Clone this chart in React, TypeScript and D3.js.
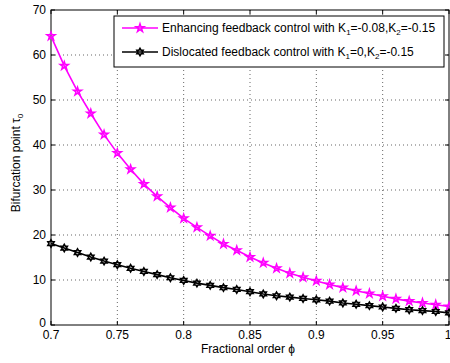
import React from "react";
import * as d3 from "d3";

const phi = [0.70,0.71,0.72,0.73,0.74,0.75,0.76,0.77,0.78,0.79,0.80,0.81,0.82,0.83,0.84,0.85,0.86,0.87,0.88,0.89,0.90,0.91,0.92,0.93,0.94,0.95,0.96,0.97,0.98,0.99,1.00];
const enhancing = [64.2,57.6,51.9,47.0,42.3,38.2,34.6,31.3,28.6,26.1,23.7,21.7,19.8,18.0,16.6,15.1,13.8,12.6,11.5,10.6,9.8,9.0,8.3,7.6,7.0,6.4,5.8,5.3,4.9,4.5,4.1];
const dislocated = [18.1,17.1,16.1,15.1,14.2,13.4,12.6,11.9,11.2,10.5,9.9,9.3,8.8,8.3,7.9,7.4,6.9,6.5,6.2,5.9,5.6,5.3,4.9,4.6,4.3,4.0,3.7,3.4,3.2,3.0,2.7];
const xTicks = [0.7,0.75,0.8,0.85,0.9,0.95,1];
const yTicks = [0,10,20,30,40,50,60,70];

const W = 450, H = 363;
const L = 51, R = 449, T = 10, B = 325;
const FONT = "'Liberation Sans', Arial, sans-serif";

function hexagram(r: number) {
  const pts: [number, number][] = [];
  for (let i = 0; i < 12; i++) {
    const a = (Math.PI / 6) * i - Math.PI / 2;
    const rr = i % 2 === 0 ? r : r * 0.577;
    pts.push([rr * Math.cos(a), rr * Math.sin(a)]);
  }
  return "M" + pts.map((p) => p.join(",")).join("L") + "Z";
}

export default function App() {
  const x = d3.scaleLinear().domain([0.7, 1]).range([L, R]);
  const y = d3.scaleLinear().domain([0, 70]).range([B, T]);
  const line = d3.line<number>().x((_, i) => x(phi[i])).y((d) => y(d));
  const star = d3.symbol().type(d3.symbolStar).size(20)()!;
  const hex = hexagram(3.6);

  return (
    <svg width={W} height={H} style={{ position: "absolute", left: 0, top: 0 }} fontFamily={FONT}>
      <rect x={0} y={0} width={W} height={H} fill="#fff" />
      {xTicks.slice(1, -1).map((t) => (
        <line key={"gx" + t} x1={x(t)} x2={x(t)} y1={T} y2={B} stroke="#000" strokeWidth={0.6} strokeDasharray="1,3" />
      ))}
      {yTicks.slice(1, -1).map((t) => (
        <line key={"gy" + t} x1={L} x2={R} y1={y(t)} y2={y(t)} stroke="#000" strokeWidth={0.6} strokeDasharray="1,3" />
      ))}
      {xTicks.map((t) => (
        <g key={"tx" + t}>
          <line x1={x(t)} x2={x(t)} y1={B} y2={B - 4} stroke="#000" />
          <line x1={x(t)} x2={x(t)} y1={T} y2={T + 4} stroke="#000" />
          <text x={t === 1 ? x(t) - 1 : x(t)} y={339} fontSize={12} textAnchor="middle">{t}</text>
        </g>
      ))}
      {yTicks.map((t) => (
        <g key={"ty" + t}>
          <line x1={L} x2={L + 4} y1={y(t)} y2={y(t)} stroke="#000" />
          <line x1={R} x2={R - 4} y1={y(t)} y2={y(t)} stroke="#000" />
          <text x={46} y={t === 0 ? y(t) + 2 : y(t) + 4} fontSize={12} textAnchor="end">{t}</text>
        </g>
      ))}
      <rect x={L} y={T} width={R - L} height={B - T} fill="none" stroke="#000" strokeWidth={1} />

      <path d={line(enhancing)!} fill="none" stroke="#ff00ff" strokeWidth={1.6} />
      {enhancing.map((v, i) => (
        <path key={"m" + i} d={star} transform={`translate(${x(phi[i])},${y(v)})`} fill="none" stroke="#ff00ff" strokeWidth={1.5} />
      ))}
      <path d={line(dislocated)!} fill="none" stroke="#000" strokeWidth={1.6} />
      {dislocated.map((v, i) => (
        <path key={"k" + i} d={hex} transform={`translate(${x(phi[i])},${y(v)})`} fill="none" stroke="#000" strokeWidth={1.6} />
      ))}

      <rect x={114} y={16} width={330} height={51} fill="#fff" stroke="#000" strokeWidth={1} />
      <line x1={122} x2={158} y1={28} y2={28} stroke="#ff00ff" strokeWidth={1.6} />
      <path d={star} transform="translate(140,28)" fill="none" stroke="#ff00ff" strokeWidth={1.5} />
      <text x={162} y={32} fontSize={12}>
        Enhancing feedback control with K<tspan fontSize={8} dy={3}>1</tspan><tspan dy={-3}>=-0.08,K</tspan><tspan fontSize={8} dy={3}>2</tspan><tspan dy={-3}>=-0.15</tspan>
      </text>
      <line x1={122} x2={158} y1={52} y2={52} stroke="#000" strokeWidth={1.6} />
      <path d={hex} transform="translate(140,52)" fill="none" stroke="#000" strokeWidth={1.6} />
      <text x={162} y={56} fontSize={12}>
        Dislocated feedback control with K<tspan fontSize={8} dy={3}>1</tspan><tspan dy={-3}>=0,K</tspan><tspan fontSize={8} dy={3}>2</tspan><tspan dy={-3}>=-0.15</tspan>
      </text>

      <text x={248} y={353} fontSize={12} textAnchor="middle">Fractional order ϕ</text>
      <text transform="translate(20,163) rotate(-90)" fontSize={12} textAnchor="middle">
        Bifurcation point τ<tspan fontSize={8} dy={3}>0</tspan>
      </text>
    </svg>
  );
}
